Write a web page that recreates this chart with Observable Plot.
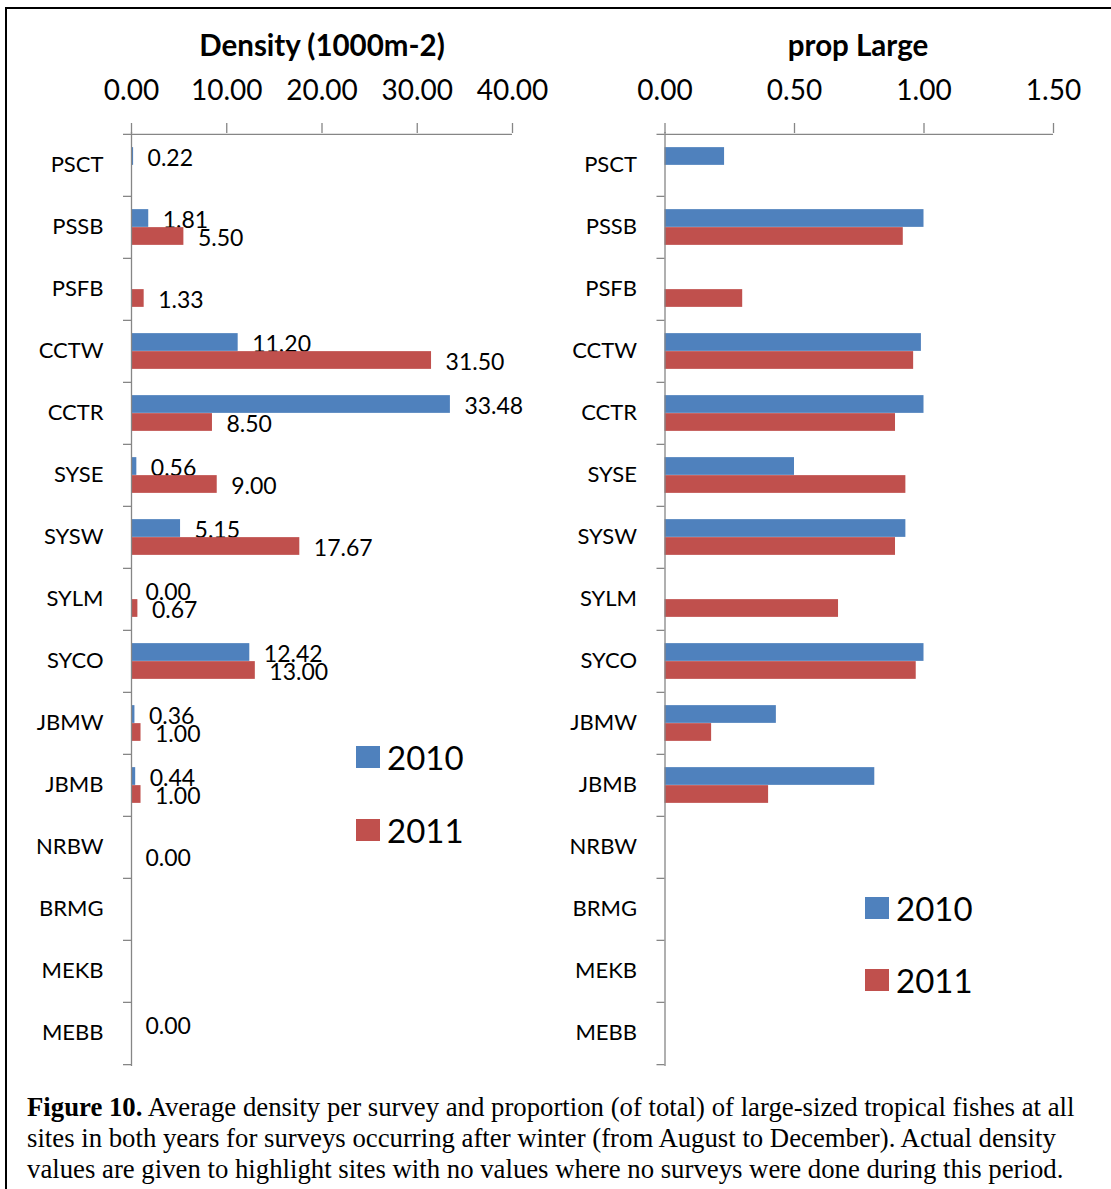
<!DOCTYPE html>
<html>
<head>
<meta charset="utf-8">
<script src="https://cdn.jsdelivr.net/npm/d3@7"></script>
<script src="https://cdn.jsdelivr.net/npm/@observablehq/plot@0.6"></script>
<style>
  html, body { margin: 0; padding: 0; background: #fff; }
  #page { position: relative; width: 1111px; height: 1189px; overflow: hidden; background: #fff; font-family: Lato, "Open Sans", sans-serif; }
  #frame { position: absolute; left: 5px; top: 7px; width: 1200px; height: 1300px; border: 2px solid #000; box-sizing: border-box; }
  .panel { position: absolute; top: 0; }
  .title { position: absolute; font-weight: bold; font-size: 29.5px; transform: translateX(-50%); white-space: nowrap; color: #000; }
  .leg { position: absolute; display: flex; align-items: center; font-size: 33px; color: #000; }
  .leg .sw { width: 24px; height: 22px; margin-right: 7px; }
  #caption { position: absolute; left: 27px; top: 1092px; font-family: "Liberation Serif", "Times New Roman", serif; font-size: 26.75px; line-height: 31px; color: #000; white-space: nowrap; }
</style>
</head>
<body>
<div id="page">
  <div id="frame"></div>
  <div id="left" class="panel" style="left:0px"></div>
  <div id="right" class="panel" style="left:560px"></div>
  <div class="title" style="left:322px; top:27px">Density (1000m-2)</div>
  <div class="title" style="left:858px; top:27px">prop Large</div>
  <div id="legLeft"></div>
  <div id="legRight"></div>
  <div id="caption"><b>Figure 10.</b> Average density per survey and proportion (of total) of large-sized tropical fishes at all<br>sites in both years for surveys occurring after winter (from August to December). Actual density<br>values are given to highlight sites with no values where no surveys were done during this period.</div>
</div>
<script>
// ---- data ----
const sites = ["PSCT","PSSB","PSFB","CCTW","CCTR","SYSE","SYSW","SYLM","SYCO","JBMW","JBMB","NRBW","BRMG","MEKB","MEBB"];
const years = ["2010", "2011"];
const density2010 = [0.22, 1.81, null, 11.20, 33.48, 0.56, 5.15, 0.00, 12.42, 0.36, 0.44, null, null, null, 0.00];
const density2011 = [null, 5.50, 1.33, 31.50, 8.50, 9.00, 17.67, 0.67, 13.00, 1.00, 1.00, 0.00, null, null, null];
const propLarge2010 = [0.23, 1.00, null, 0.99, 1.00, 0.50, 0.93, null, 1.00, 0.43, 0.81, null, null, null, null];
const propLarge2011 = [null, 0.92, 0.30, 0.96, 0.89, 0.93, 0.89, 0.67, 0.97, 0.18, 0.40, null, null, null, null];
const densityTicks = [0, 10, 20, 30, 40];
const propTicks = [0, 0.5, 1.0, 1.5];
const colors = {"2010": "#4F81BD", "2011": "#C0504D"};

const rows = sites.flatMap((s, i) => [
  {site: s, year: "2010", density: density2010[i], prop: propLarge2010[i]},
  {site: s, year: "2011", density: density2011[i], prop: propLarge2011[i]}
]);

const axisGray = "#868686";
const fmt = d3.format(".2f");
const H = 1080, MT = 132, MB = 14;
const band = (H - MT - MB) / sites.length;
const barH = 18;
const padOuter = (band - 2 * barH) / 2;
const insets = {
  "2010": {insetTop: padOuter, insetBottom: padOuter + barH},
  "2011": {insetTop: padOuter + barH, insetBottom: padOuter}
};
const labelDy = {"2010": -barH / 2 + 2, "2011": barH / 2 + 2};

function panel({field, domain, ticks, width, marginLeft, marginRight, labels}) {
  const marks = [];
  for (const y of years) {
    const data = rows.filter(d => d.year === y && d[field] != null);
    marks.push(Plot.barX(data, {x: field, y: "site", fill: colors[y], ...insets[y]}));
    if (labels) {
      marks.push(Plot.text(data, {x: field, y: "site", text: d => fmt(d[field]), dx: 14, dy: labelDy[y], textAnchor: "start", fontSize: 23, fill: "#000"}));
    }
  }
  marks.push(
    Plot.ruleX([0], {stroke: axisGray, strokeWidth: 1.3}),
    Plot.ruleY([sites[0]], {stroke: axisGray, strokeWidth: 1.3, dy: -band / 2}),
    Plot.axisX({anchor: "top", ticks, tickSize: 10, text: null, label: null, stroke: axisGray, strokeWidth: 1.3}),
    Plot.axisX({anchor: "top", ticks, tickSize: 0, tickPadding: 33, tickFormat: fmt, fontSize: 28, fill: "#000", label: null}),
    Plot.axisY({anchor: "left", tickSize: 8, text: null, label: null, stroke: axisGray, strokeWidth: 1.3, dy: -band / 2}),
    Plot.axisY({anchor: "left", ticks: [sites[sites.length - 1]], tickSize: 8, text: null, label: null, stroke: axisGray, strokeWidth: 1.3, dy: band / 2}),
    Plot.axisY({anchor: "left", tickSize: 0, tickPadding: 28, fontSize: 22, fill: "#000", label: null, dy: -1})
  );
  return Plot.plot({
    width, height: H,
    marginTop: MT, marginBottom: MB, marginLeft, marginRight,
    x: {domain, label: null},
    y: {type: "band", domain: sites, padding: 0, label: null},
    style: {fontFamily: "Lato, 'Open Sans', sans-serif", background: "transparent", color: "#000", overflow: "visible"},
    marks
  });
}

document.getElementById("left").append(panel({field: "density", domain: [0, 40], ticks: densityTicks, width: 560, marginLeft: 131, marginRight: 48, labels: true}));
document.getElementById("right").append(panel({field: "prop", domain: [0, 1.5], ticks: propTicks, width: 551, marginLeft: 104.5, marginRight: 58, labels: false}));

function legend(el, left, tops) {
  years.forEach((y, i) => {
    const d = document.createElement("div");
    d.className = "leg";
    d.style.left = left + "px";
    d.style.top = tops[i] + "px";
    d.innerHTML = `<div class="sw" style="background:${colors[y]}"></div><span>${y}</span>`;
    el.append(d);
  });
}
legend(document.getElementById("legLeft"), 356, [737, 810]);
legend(document.getElementById("legRight"), 865, [888, 960]);
</script>
</body>
</html>
